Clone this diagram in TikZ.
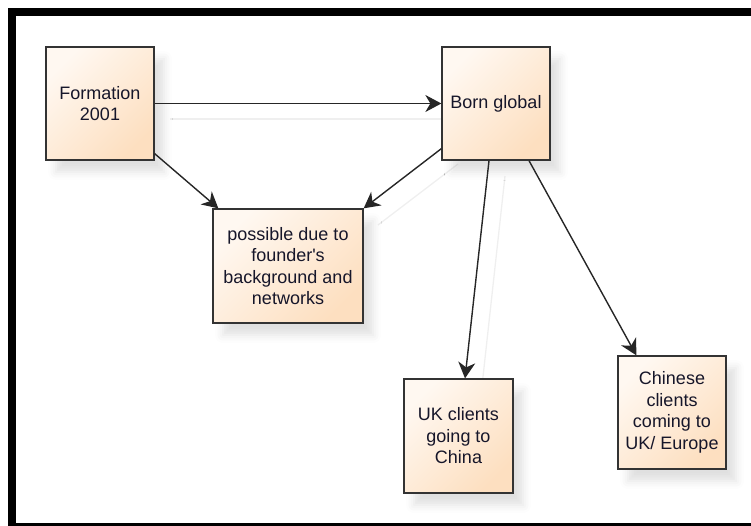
\documentclass[tikz,border=0pt]{standalone}
\usepackage{fontspec}
\newfontfamily\boxfont{Liberation Sans}
\usetikzlibrary{arrows.meta,calc,shadows.blur}

\definecolor{boxlight}{HTML}{FFF8F1}
\definecolor{boxdark}{HTML}{FDDFC0}
\definecolor{boxedge}{HTML}{333333}
\definecolor{labeltext}{HTML}{16162A}
\definecolor{linkcol}{HTML}{262626}
\definecolor{ghost}{HTML}{EFEFEF}

\tikzset{
  stepbox/.style={
    draw=boxedge, line width=1.3pt,
    left color=boxlight, right color=boxdark, shading angle=45,
    blur shadow={shadow xshift=10pt, shadow yshift=-12pt,
                 shadow blur radius=8pt, shadow opacity=12},
    minimum width=108pt, minimum height=113pt,
    align=center, text=labeltext, inner sep=2pt,
    font=\boxfont\fontsize{18}{21.5}\selectfont
  },
  link/.style={draw=linkcol, line width=1.4pt,
    -{Stealth[length=16pt,width=17pt,inset=5pt]}},
  ghostlink/.style={draw=ghost, line width=1.3pt}
}

\begin{document}
\begin{tikzpicture}[x=1pt,y=-1pt]
  \useasboundingbox (0,0) rectangle (751,526);

  % heavy outer frame
  \draw[line width=8pt] (12,11.75) rectangle (780,527);

  % faint shadows of the connectors
  \draw[ghostlink] (170,119) -- (458,119);
  \draw[ghostlink] (458,164) -- (378,225);
  \draw[ghostlink] (505,176) -- (481,395);

  % boxes
  \node[stepbox] (form) at (100,103.5) {Formation\\2001};
  \node[stepbox] (born) at (496,103.5) {Born global};
  \node[stepbox, minimum width=150pt, minimum height=114pt] (why) at (288,266)
    {possible due to\\founder's\\background and\\networks};
  \node[stepbox, minimum width=109pt, minimum height=114pt] (uk) at (458.5,436)
    {UK clients\\going to\\China};
  \node[stepbox] (cn) at (672,412.5) {Chinese\\clients\\coming to\\UK/ Europe};

  % connectors
  \draw[link] (form.east) -- (born.west);
  \draw[link] ($(form.south east)+(0,-7)$) -- ($(why.north west)+(6,0)$);
  \draw[link] ($(born.south west)+(0,-12)$) -- (why.north east);
  \draw[link] ($(born.south)+(-7,0)$) -- ($(uk.north)+(6.5,0)$);
  \draw[link] ($(born.south)+(33,0)$) -- ($(cn.north west)+(19,0)$);
\end{tikzpicture}
\end{document}
